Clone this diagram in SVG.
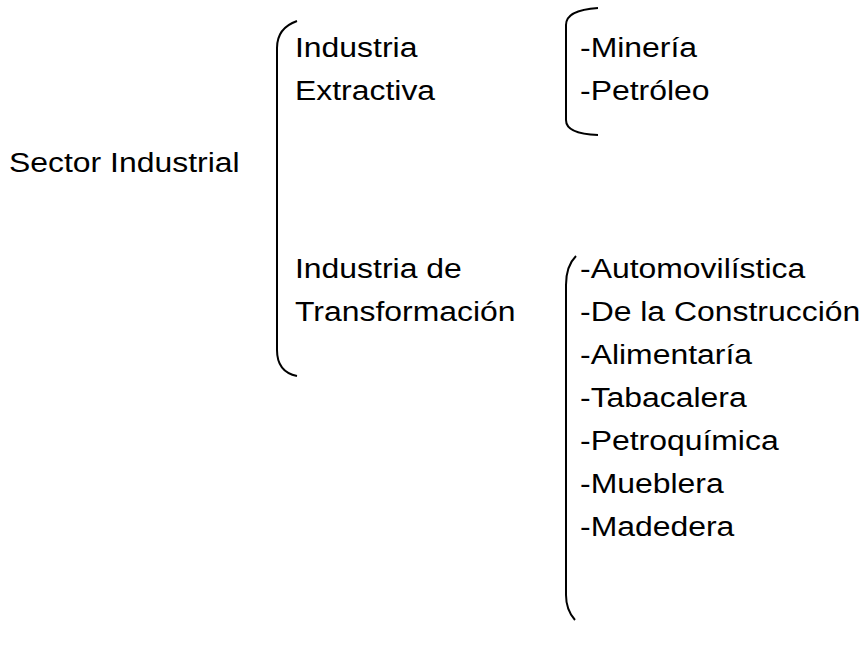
<svg xmlns="http://www.w3.org/2000/svg" width="861" height="646" viewBox="0 0 861 646">
<style>
text{font-family:"Liberation Sans",Arial,sans-serif;font-size:28px;fill:#000}
.br{fill:none;stroke:#000;stroke-width:2}
</style>
<rect width="861" height="646" fill="#fff"/>
<g id="root"><text transform="translate(9,172) scale(1.14,1)">Sector Industrial</text></g>
<g id="extractiva"><text transform="translate(295,57) scale(1.14,1)">Industria</text><text transform="translate(295,100) scale(1.14,1)">Extractiva</text></g>
<g id="transformacion"><text transform="translate(295,278) scale(1.14,1)">Industria de</text><text transform="translate(295,321) scale(1.14,1)">Transformación</text></g>
<g id="ext-items"><text transform="translate(580,57) scale(1.14,1)">-Minería</text><text transform="translate(580,100) scale(1.14,1)">-Petróleo</text></g>
<g id="trans-items">
<text transform="translate(580,278) scale(1.14,1)">-Automovilística</text>
<text transform="translate(580,321) scale(1.14,1)">-De la Construcción</text>
<text transform="translate(580,364) scale(1.14,1)">-Alimentaría</text>
<text transform="translate(580,407) scale(1.14,1)">-Tabacalera</text>
<text transform="translate(580,450) scale(1.14,1)">-Petroquímica</text>
<text transform="translate(580,493) scale(1.14,1)">-Mueblera</text>
<text transform="translate(580,536) scale(1.14,1)">-Madedera</text>
</g>
<g id="connectors">
<path class="br" d="M297,21 Q277,28 277,48 L277,350 Q277,372 297,376"/>
<path class="br" d="M598,8 Q566,10 566,25 L566,120 Q566,134 598,135"/>
<path class="br" d="M576,256 Q566,266 566,285 L566,595 Q566,610 575,620"/>
</g>
</svg>
